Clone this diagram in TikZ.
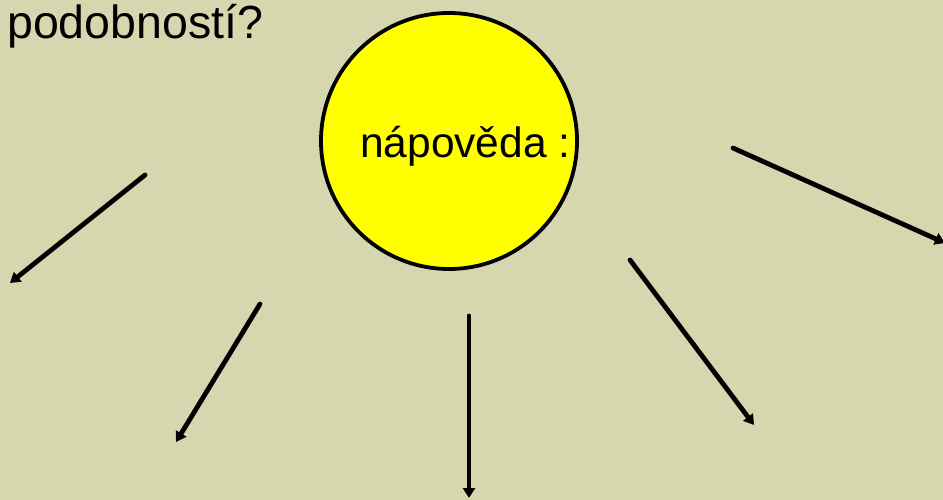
\documentclass[tikz,border=0pt]{standalone}
\usepackage{fontspec}
\setmainfont{Liberation Sans}
\usetikzlibrary{arrows.meta}
\definecolor{bgkhaki}{HTML}{D7D7AF}
\definecolor{sunyellow}{HTML}{FFFF00}
\begin{document}
\begin{tikzpicture}[x=1pt,y=-1pt,
  ray/.style={line width=4.8pt, line cap=round, -{Triangle[length=10pt,width=12pt]}},
  sun/.style={circle, draw=black, line width=3.8pt, fill=sunyellow, minimum size=256pt, inner sep=0pt}]
\fill[bgkhaki] (0,0) rectangle (943,500);
\useasboundingbox (0,0) rectangle (943,500);
\node[anchor=base west, inner sep=0pt, font=\fontsize{46.5}{50}\selectfont] (title) at (7,39) {podobností?};
\node[sun] (sunc) at (449,141) {};
\node[anchor=base west, inner sep=0pt, font=\fontsize{42.5}{48}\selectfont] (hint) at (360,158) {nápověda :};
\coordinate (t1) at (145,175); \coordinate (h1) at (10,283);
\coordinate (t2) at (260,304); \coordinate (h2) at (176,442);
\coordinate (t3) at (469,316); \coordinate (h3) at (469,498);
\coordinate (t4) at (630,260); \coordinate (h4) at (754,425);
\coordinate (t5) at (733,148); \coordinate (h5) at (945,243);
\draw[ray] (t1) -- (h1);
\draw[ray] (t2) -- (h2);
\draw[ray] (t3) -- (h3);
\draw[ray] (t4) -- (h4);
\draw[ray] (t5) -- (h5);
\end{tikzpicture}
\end{document}
